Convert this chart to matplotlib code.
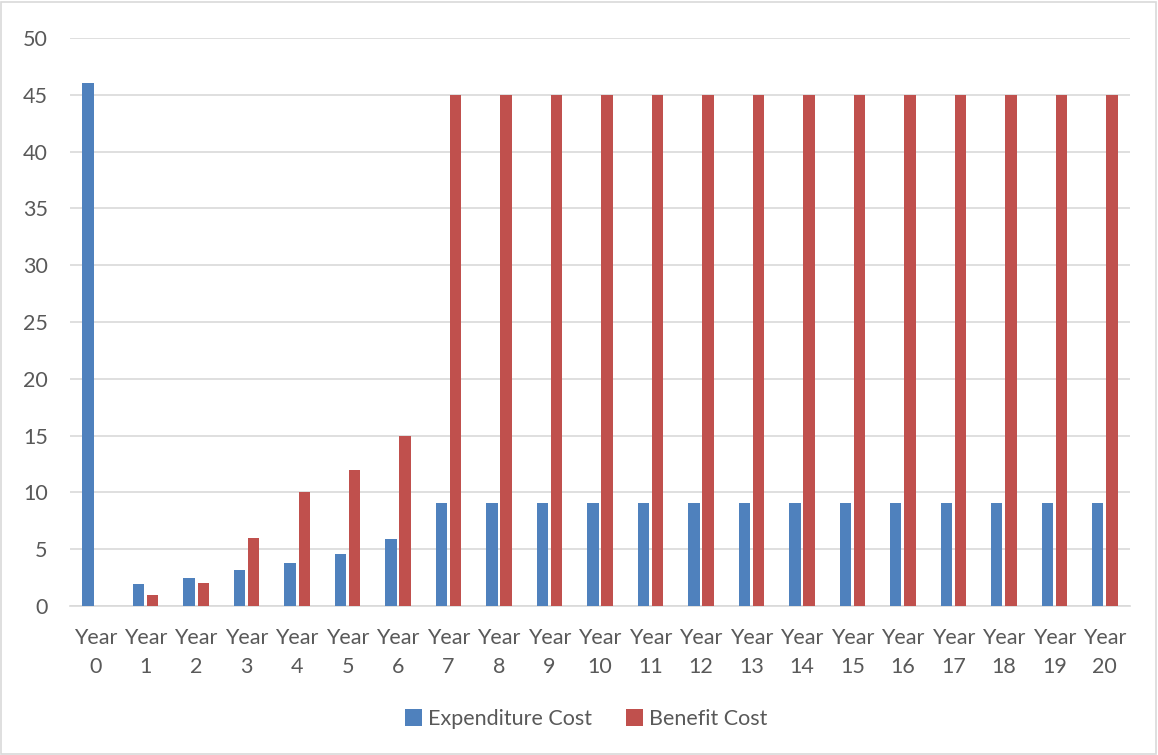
import numpy as np
import matplotlib.pyplot as plt

plt.rcParams['font.family'] = ['Lato', 'DejaVu Sans']

years = [f"Year\n{i}" for i in range(21)]
expenditure = [46, 1.95, 2.5, 3.2, 3.75, 4.6, 5.9] + [9.1] * 14
benefit = [0, 1, 2, 6, 10, 12, 15] + [45] * 14

blue = '#4F81BD'
red = '#C0504D'
text_col = '#595959'

fig = plt.figure(figsize=(11.58, 7.55), dpi=100)
ax = fig.add_axes([70 / 1158, 1 - 606 / 755, 1060 / 1158, 568 / 755])

x = np.arange(len(years))
w = 0.225
ax.bar(x - 0.14, expenditure, w, color=blue, label='Expenditure Cost', zorder=3)
ax.bar(x + 0.14, benefit, w, color=red, label='Benefit Cost', zorder=3)

ax.set_xlim(-0.5, len(years) - 0.5)
ax.set_ylim(0, 50)
ax.set_yticks(range(0, 51, 5))
ax.set_xticks(x)
ax.set_xticklabels(years, fontsize=15.5, color=text_col, linespacing=1.55)
ax.tick_params(axis='y', labelsize=15.5, labelcolor=text_col, length=0, pad=16)
ax.tick_params(axis='x', length=0, pad=16)
ax.grid(axis='y', color='#D9D9D9', linewidth=1.2, zorder=0)
for s in ['top', 'right', 'left']:
    ax.spines[s].set_visible(False)
ax.spines['bottom'].set_color('#D9D9D9')
ax.spines['bottom'].set_linewidth(1.2)

fig.legend(loc='center', bbox_to_anchor=(0.506, 1 - 719 / 755), ncol=2, frameon=False,
           fontsize=15.5, labelcolor=text_col, handlelength=0.8, handleheight=0.8,
           columnspacing=1.6, handletextpad=0.25)

# light border around the whole chart
fig.patches.append(plt.Rectangle((0.001, 0.001), 0.997, 0.997, transform=fig.transFigure,
                                 fill=False, edgecolor='#D9D9D9', linewidth=1.2))

fig.savefig('out.png', dpi=100)
